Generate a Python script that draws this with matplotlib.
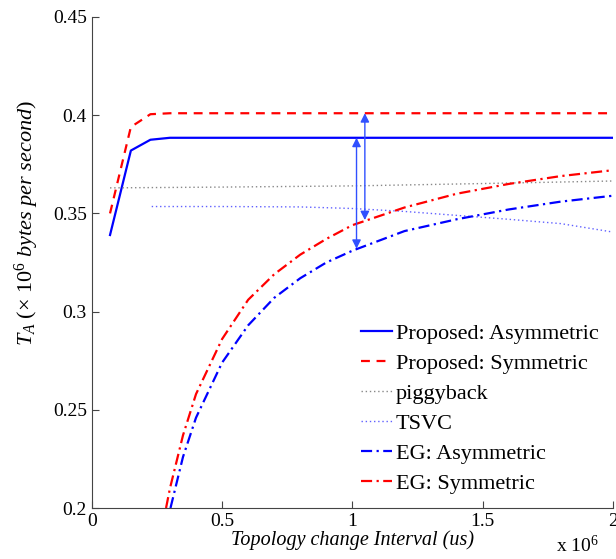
import matplotlib
matplotlib.use("Agg")
import matplotlib.pyplot as plt

plt.rcParams['font.family'] = ['Liberation Serif', 'DejaVu Serif']
plt.rcParams['mathtext.fontset'] = 'custom'
plt.rcParams['mathtext.rm'] = 'Liberation Serif'
plt.rcParams['mathtext.it'] = 'Liberation Serif:italic'

# x in units of 1e6 us
prop_x = [0.07, 0.15, 0.225, 0.3, 2.0]
prop_asym = [0.339, 0.382, 0.3875, 0.3885, 0.3885]
prop_sym = [0.350, 0.394, 0.4005, 0.401, 0.401]

pig_x = [0.07, 0.5, 1.0, 1.5, 2.0]
pig_y = [0.363, 0.3634, 0.364, 0.3652, 0.3665]

tsvc_x = [0.23, 0.5, 0.8, 1.0, 1.2, 1.4, 1.6, 1.8, 2.0]
tsvc_y = [0.3535, 0.3535, 0.3533, 0.3525, 0.351, 0.349, 0.347, 0.3448, 0.3405]

eg_asym_x = [0.302, 0.35, 0.4, 0.5, 0.6, 0.7, 0.8, 0.9, 1.0, 1.2, 1.4, 1.6, 1.8, 2.0]
eg_asym_y = [0.200, 0.226, 0.246, 0.274, 0.293, 0.307, 0.317, 0.325, 0.331,
             0.341, 0.347, 0.352, 0.356, 0.359]
eg_sym_x = [0.285, 0.3, 0.35, 0.4, 0.5, 0.6, 0.7, 0.8, 0.9, 1.0, 1.2, 1.4, 1.6, 1.8, 2.0]
eg_sym_y = [0.200, 0.210, 0.237, 0.258, 0.286, 0.306, 0.319, 0.329, 0.337, 0.344,
            0.353, 0.360, 0.365, 0.369, 0.372]

fig = plt.figure(figsize=(6.16, 5.59), dpi=100)
ax = fig.add_axes([0.149, 0.0912, 0.846, 0.8784])

ax.plot(prop_x, prop_asym, color='b', lw=1.6, label='Proposed: Asymmetric')
ax.plot(prop_x, prop_sym, color='r', lw=1.6, ls=(0, (4, 3)), label='Proposed: Symmetric')
ax.plot(pig_x, pig_y, color='#888888', lw=1.0, ls=(0, (1, 2)), label='piggyback')
ax.plot(tsvc_x, tsvc_y, color='#6060ff', lw=1.0, ls=(0, (1, 2)), label='TSVC')
ax.plot(eg_asym_x, eg_asym_y, color='b', lw=1.6, ls=(0, (5, 2, 1, 2)), label='EG: Asymmetric')
ax.plot(eg_sym_x, eg_sym_y, color='r', lw=1.6, ls=(0, (5, 2, 1, 2)), label='EG: Symmetric')

# gap arrows
ax.annotate('', xy=(1.016, 0.332), xytext=(1.016, 0.3885),
            arrowprops=dict(arrowstyle='<|-|>', color='#3050ff', lw=1.0,
                            mutation_scale=13, shrinkA=0, shrinkB=0))
ax.annotate('', xy=(1.048, 0.3466), xytext=(1.048, 0.401),
            arrowprops=dict(arrowstyle='<|-|>', color='#3050ff', lw=1.0,
                            mutation_scale=13, shrinkA=0, shrinkB=0))

ax.set_xlim(0, 2)
ax.set_ylim(0.2, 0.45)
ax.set_xticks([0, 0.5, 1, 1.5, 2])
ax.set_xticklabels(['0', '0.5', '1', '1.5', '2'])
ax.set_yticks([0.2, 0.25, 0.3, 0.35, 0.4, 0.45])
ax.set_yticklabels(['0.2', '0.25', '0.3', '0.35', '0.4', '0.45'])
ax.tick_params(direction='in', labelsize=14, length=5, color='#444444')
ax.spines['top'].set_visible(False)
ax.spines['right'].set_visible(False)
for s in ('left', 'bottom'):
    ax.spines[s].set_color('#444444')

ax.set_xlabel('Topology change Interval (us)', fontsize=14.5, style='italic', labelpad=0)
ax.set_ylabel(r'$T_A\ (\times\ 10^6$ bytes per second$)$', fontsize=16, style='italic')
ax.yaxis.set_label_coords(-0.097, 0.58)
fig.text(0.903, 0.012, r'x 10$^6$', fontsize=14)

ax.legend(loc='lower right', frameon=False, fontsize=16, handlelength=1.4,
          handletextpad=0.15, labelspacing=0.42, borderaxespad=0.25)

fig.savefig('out.png', dpi=100)
